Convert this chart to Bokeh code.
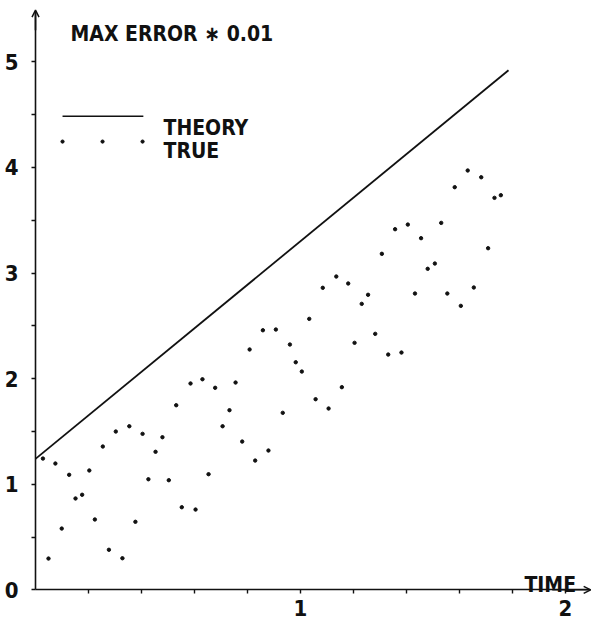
from bokeh.plotting import figure
from bokeh.models import LinearAxis, FixedTicker, Label, Arrow, OpenHead
from bokeh.embed import file_html
from bokeh.resources import INLINE

# ---- data ----
theory_t = [0.0, 1.785]
theory_y = [1.24, 4.92]

true_t = [0.028, 0.049, 0.075, 0.099, 0.127, 0.151, 0.176, 0.203, 0.224, 0.254,
          0.277, 0.303, 0.328, 0.354, 0.377, 0.404, 0.426, 0.453, 0.479, 0.503,
          0.531, 0.552, 0.585, 0.604, 0.630, 0.653, 0.678, 0.706, 0.732, 0.755,
          0.780, 0.808, 0.829, 0.858, 0.879, 0.907, 0.933, 0.960, 0.982, 1.005,
          1.033, 1.057, 1.084, 1.106, 1.135, 1.156, 1.180, 1.204, 1.231, 1.255,
          1.282, 1.307, 1.331, 1.357, 1.381, 1.405, 1.432, 1.455, 1.480, 1.507,
          1.531, 1.554, 1.582, 1.605, 1.631, 1.654, 1.682, 1.708, 1.732, 1.756]
true_y = [1.243, 0.296, 1.196, 0.580, 1.089, 0.865, 0.900, 1.130, 0.666, 1.357,
          0.379, 1.499, 0.299, 1.549, 0.644, 1.477, 1.047, 1.307, 1.445, 1.038,
          1.748, 0.782, 1.954, 0.760, 1.994, 1.095, 1.913, 1.549, 1.701, 1.963,
          1.404, 2.276, 1.224, 2.458, 1.319, 2.465, 1.676, 2.323, 2.155, 2.067,
          2.566, 1.805, 2.860, 1.717, 2.967, 1.919, 2.901, 2.339, 2.708, 2.794,
          2.424, 3.182, 2.228, 3.415, 2.247, 3.459, 2.806, 3.330, 3.040, 3.090,
          3.475, 2.806, 3.813, 2.689, 3.971, 2.863, 3.907, 3.235, 3.712, 3.737]

x_ticks = [1, 2]
x_minor = [0.2, 0.4, 0.6, 0.8, 1.2, 1.4, 1.6, 1.8]
y_ticks = [0, 1, 2, 3, 4, 5]
y_minor = [0.5, 1.5, 2.5, 3.5, 4.5]

title_text = "MAX ERROR \u2217 0.01"
legend_labels = ["THEORY", "TRUE"]
x_label = "TIME"

FONT = "'DejaVu Sans Condensed', 'Liberation Sans', sans-serif"
FSIZE = "21px"
INK = "#111111"

p = figure(width=592, height=620, output_backend="svg", toolbar_location=None,
           x_range=(-0.1321, 2.1019), y_range=(-0.2907, 5.581),
           x_axis_type=None, y_axis_type=None, min_border=0,
           background_fill_color="white", border_fill_color="white")
p.outline_line_color = None
p.grid.visible = False


def style_axis(ax, standoff):
    ax.axis_line_width = 1.6
    ax.axis_line_color = INK
    ax.major_tick_out = 4
    ax.major_tick_in = 0
    ax.minor_tick_out = 4
    ax.minor_tick_in = 0
    ax.major_tick_line_width = 1.4
    ax.minor_tick_line_width = 1.4
    ax.major_tick_line_color = INK
    ax.minor_tick_line_color = INK
    ax.major_label_standoff = standoff
    ax.major_label_text_font = FONT
    ax.major_label_text_font_style = "bold"
    ax.major_label_text_font_size = "22px"
    ax.major_label_text_color = INK


# axes through the origin
xa = LinearAxis(fixed_location=0, bounds=(0, 2.09),
                ticker=FixedTicker(ticks=x_ticks, minor_ticks=x_minor))
style_axis(xa, 6)
p.add_layout(xa, "below")

ya = LinearAxis(fixed_location=0, bounds=(0, 5.48),
                ticker=FixedTicker(ticks=y_ticks, minor_ticks=y_minor))
style_axis(ya, 13)
ya.major_label_orientation = "horizontal"
p.add_layout(ya, "left")

# arrow heads at the axis ends
p.add_layout(Arrow(end=OpenHead(size=7, line_width=1.5, line_color=INK),
                   x_start=0, y_start=5.3, x_end=0, y_end=5.49,
                   line_width=1.6, line_color=INK))
p.add_layout(Arrow(end=OpenHead(size=7, line_width=1.5, line_color=INK),
                   x_start=1.95, y_start=0, x_end=2.095, y_end=0,
                   line_width=1.6, line_color=INK))

# data
p.line(theory_t, theory_y, line_color=INK, line_width=1.8)
p.scatter(true_t, true_y, marker="circle", size=3.4, fill_color=INK, line_color=INK)

# title
p.add_layout(Label(x=0.132, y=5.268, text=title_text, text_font=FONT, text_font_style="bold",
                   text_font_size=FSIZE, text_color=INK, text_baseline="alphabetic"))

# legend (drawn by hand)
leg_line_x = [0.102, 0.407]
leg_line_y = [4.485, 4.485]
p.line(leg_line_x, leg_line_y, line_color=INK, line_width=1.6)
leg_dot_x = [0.102, 0.253, 0.404]
leg_dot_y = [4.245, 4.245, 4.245]
p.scatter(leg_dot_x, leg_dot_y, marker="circle", size=3.2, fill_color=INK, line_color=INK)
p.add_layout(Label(x=0.483, y=4.378, text=legend_labels[0], text_font=FONT, text_font_style="bold",
                   text_font_size=FSIZE, text_color=INK, text_baseline="alphabetic"))
p.add_layout(Label(x=0.483, y=4.155, text=legend_labels[1], text_font=FONT, text_font_style="bold",
                   text_font_size=FSIZE, text_color=INK, text_baseline="alphabetic"))

# axis title
p.add_layout(Label(x=1.845, y=0.041, text=x_label, text_font=FONT, text_font_style="bold",
                   text_font_size=FSIZE, text_color=INK, text_baseline="alphabetic"))

open("out.html", "w").write(file_html(p, INLINE))
